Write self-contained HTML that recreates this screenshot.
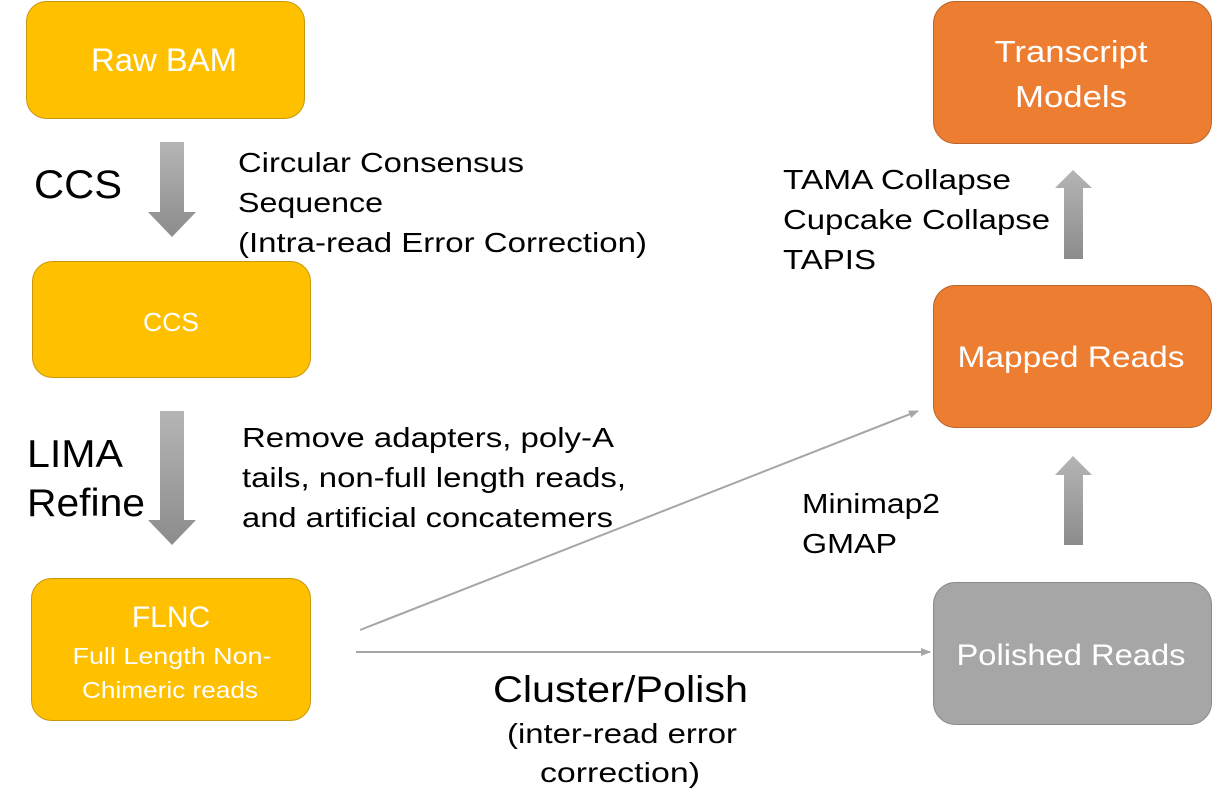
<!DOCTYPE html>
<html><head><meta charset="utf-8"><style>
html,body{margin:0;padding:0;background:#fff;}
svg{display:block;}
.w{fill:#fff;font-family:"Liberation Sans",sans-serif;text-anchor:middle;}
.b{fill:#000;font-family:"Liberation Sans",sans-serif;}
</style></head><body>
<svg width="1212" height="810" viewBox="0 0 1212 810" xmlns="http://www.w3.org/2000/svg">
<defs>
<linearGradient id="gd" x1="0" y1="0" x2="0" y2="1"><stop offset="0" stop-color="#b5b5b5"/><stop offset="1" stop-color="#8c8c8c"/></linearGradient>
<linearGradient id="gu" x1="0" y1="1" x2="0" y2="0"><stop offset="0" stop-color="#8c8c8c"/><stop offset="1" stop-color="#b5b5b5"/></linearGradient>
<marker id="ah" markerWidth="10" markerHeight="8" refX="9" refY="4" orient="auto" markerUnits="userSpaceOnUse"><path d="M0,0 L10,4 L0,8 Z" fill="#a6a6a6"/></marker>
</defs>
<rect x="26.5" y="1.5" width="278" height="117" rx="20" fill="#ffc000" stroke="#c9980a"/>
<text class="w" x="164" y="71" font-size="32" textLength="146" lengthAdjust="spacingAndGlyphs">Raw BAM</text>
<rect x="32.5" y="261.5" width="278" height="116" rx="20" fill="#ffc000" stroke="#c9980a"/>
<text class="w" x="171" y="331" font-size="26" textLength="56" lengthAdjust="spacingAndGlyphs">CCS</text>
<rect x="31.5" y="578.5" width="279" height="142" rx="20" fill="#ffc000" stroke="#c9980a"/>
<text class="w" x="171" y="627" font-size="30">FLNC</text>
<text class="w" x="172" y="664" font-size="23" textLength="199" lengthAdjust="spacingAndGlyphs">Full Length Non-</text>
<text class="w" x="170" y="698" font-size="23" textLength="176" lengthAdjust="spacingAndGlyphs">Chimeric reads</text>

<rect x="933.5" y="1.5" width="278" height="142" rx="22" fill="#ed7d31" stroke="#b9652b"/>
<text class="w" x="1071" y="62" font-size="31" textLength="153" lengthAdjust="spacingAndGlyphs">Transcript</text>
<text class="w" x="1071" y="107" font-size="31" textLength="112" lengthAdjust="spacingAndGlyphs">Models</text>
<rect x="933.5" y="285.5" width="278" height="142" rx="22" fill="#ed7d31" stroke="#b9652b"/>
<text class="w" x="1071" y="367" font-size="30" textLength="227" lengthAdjust="spacingAndGlyphs">Mapped Reads</text>
<rect x="933.5" y="582.5" width="278" height="142" rx="22" fill="#a6a6a6" stroke="#8a8a8a"/>
<text class="w" x="1071" y="665" font-size="30" textLength="229" lengthAdjust="spacingAndGlyphs">Polished Reads</text>

<path d="M160,142 H184 V212 H196 L172,237 L148,212 H160 Z" fill="url(#gd)"/>
<path d="M160,411 H184 V520 H196 L172,545 L148,520 H160 Z" fill="url(#gd)"/>
<path d="M1064,259 H1083 V188 H1092 L1073,170 L1055,188 H1064 Z" fill="url(#gu)"/>
<path d="M1064,545 H1083 V475 H1092 L1073,456 L1055,475 H1064 Z" fill="url(#gu)"/>

<line x1="360" y1="630" x2="918" y2="411" stroke="#a6a6a6" stroke-width="2" marker-end="url(#ah)"/>
<line x1="356" y1="652" x2="930" y2="652" stroke="#a6a6a6" stroke-width="2" marker-end="url(#ah)"/>

<text class="b" x="34" y="198" font-size="40" textLength="88" lengthAdjust="spacingAndGlyphs">CCS</text>
<text class="b" x="238" y="172" font-size="28" textLength="286" lengthAdjust="spacingAndGlyphs">Circular Consensus</text>
<text class="b" x="238" y="212" font-size="28" textLength="145" lengthAdjust="spacingAndGlyphs">Sequence</text>
<text class="b" x="238" y="252" font-size="28" textLength="409" lengthAdjust="spacingAndGlyphs">(Intra-read Error Correction)</text>
<text class="b" x="27" y="467" font-size="39" textLength="96" lengthAdjust="spacingAndGlyphs">LIMA</text>
<text class="b" x="27" y="516" font-size="39" textLength="118" lengthAdjust="spacingAndGlyphs">Refine</text>
<text class="b" x="242" y="447" font-size="28" textLength="372" lengthAdjust="spacingAndGlyphs">Remove adapters, poly-A</text>
<text class="b" x="242" y="487" font-size="28" textLength="384" lengthAdjust="spacingAndGlyphs">tails, non-full length reads,</text>
<text class="b" x="242" y="527" font-size="28" textLength="371" lengthAdjust="spacingAndGlyphs">and artificial concatemers</text>
<text class="b" x="783" y="189" font-size="28" textLength="228" lengthAdjust="spacingAndGlyphs">TAMA Collapse</text>
<text class="b" x="783" y="229" font-size="28" textLength="267" lengthAdjust="spacingAndGlyphs">Cupcake Collapse</text>
<text class="b" x="783" y="269" font-size="28" textLength="93" lengthAdjust="spacingAndGlyphs">TAPIS</text>
<text class="b" x="802" y="513" font-size="28" textLength="138" lengthAdjust="spacingAndGlyphs">Minimap2</text>
<text class="b" x="802" y="553" font-size="28" textLength="95" lengthAdjust="spacingAndGlyphs">GMAP</text>
<text class="b" x="493" y="702" font-size="37" textLength="255" lengthAdjust="spacingAndGlyphs">Cluster/Polish</text>
<text class="b" x="507" y="743" font-size="28" textLength="230" lengthAdjust="spacingAndGlyphs">(inter-read error</text>
<text class="b" x="540" y="782" font-size="28" textLength="160" lengthAdjust="spacingAndGlyphs">correction)</text>
</svg>
</body></html>
